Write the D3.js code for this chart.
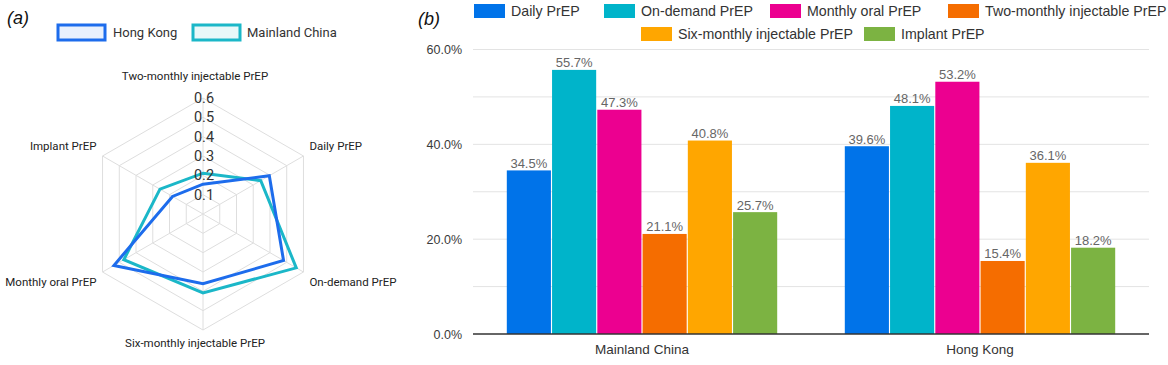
<!DOCTYPE html>
<html>
<head>
<meta charset="utf-8">
<script src="https://cdn.jsdelivr.net/npm/d3@7"></script>
<style>
  body { margin: 0; background: #fff; }
  svg { display: block; }
</style>
</head>
<body>
<svg width="1168" height="365"></svg>
<script>
// data
let methods = ['Daily PrEP', 'On-demand PrEP', 'Monthly oral PrEP', 'Two-monthly injectable PrEP', 'Six-monthly injectable PrEP', 'Implant PrEP'];
let regions = ['Mainland China', 'Hong Kong'];
let mainlandValues = [34.5, 55.7, 47.3, 21.1, 40.8, 25.7];
let hongKongValues = [39.6, 48.1, 53.2, 15.4, 36.1, 18.2];
let yTicks = [0, 20, 40, 60];

// radar axes order (clockwise from top)
let radarAxes = ['Two-monthly injectable PrEP', 'Daily PrEP', 'On-demand PrEP', 'Six-monthly injectable PrEP', 'Monthly oral PrEP', 'Implant PrEP'];
let radarLevels = [0.1, 0.2, 0.3, 0.4, 0.5, 0.6];

let barColors = ['#0073e9', '#00b4ca', '#ec0090', '#f56d00', '#ffa600', '#7cb342'];
let radarColors = { 'Hong Kong': '#1d6cec', 'Mainland China': '#1bb7c8' };

let svg = d3.select('svg');

// ---------- panel (a): radar ----------
let drawRadar = () => {
    let cx = 203, cy = 214, R = 116;
    let g = svg.append('g').attr('transform', `translate(${cx}, ${cy})`);
    let rScale = d3.scaleLinear().domain([0, 0.6]).range([0, R]);
    let angle = (i) => i * 2 * Math.PI / radarAxes.length;

    // grid hexagons
    radarLevels.forEach((lv) => {
        let pts = radarAxes.map((a, i) => [rScale(lv) * Math.sin(angle(i)), -rScale(lv) * Math.cos(angle(i))]);
        g.append('polygon')
            .attr('points', pts.map((p) => p.join(',')).join(' '))
            .attr('fill', 'none')
            .attr('stroke', '#dedede')
            .attr('stroke-width', 1);
    });
    // spokes
    radarAxes.forEach((a, i) => {
        g.append('line')
            .attr('x1', 0).attr('y1', 0)
            .attr('x2', R * Math.sin(angle(i)))
            .attr('y2', -R * Math.cos(angle(i)))
            .attr('stroke', '#dedede');
    });

    // series
    let series = [
        { name: 'Mainland China', values: mainlandValues },
        { name: 'Hong Kong', values: hongKongValues }
    ];
    let line = d3.lineRadial()
        .angle((d, i) => angle(i))
        .radius((d) => rScale(d))
        .curve(d3.curveLinearClosed);
    series.forEach((s) => {
        let vals = radarAxes.map((a) => s.values[methods.indexOf(a)] / 100);
        g.append('path')
            .attr('d', line(vals))
            .attr('fill', 'none')
            .attr('stroke', radarColors[s.name])
            .attr('stroke-width', 3)
            .attr('stroke-linejoin', 'miter');
    });

    // level labels
    radarLevels.forEach((lv) => {
        g.append('text')
            .attr('x', 1)
            .attr('y', -rScale(lv))
            .attr('dy', '0.35em')
            .attr('text-anchor', 'middle')
            .attr('font-family', 'Roboto, sans-serif')
            .attr('font-size', 14.5)
            .attr('fill', '#333')
            .text(lv.toFixed(1));
    });

    // axis labels
    radarAxes.forEach((a, i) => {
        let x = R * Math.sin(angle(i)), y = -R * Math.cos(angle(i));
        let anchor = 'middle', tx = x - 8, ty = y;
        if (i === 0) { ty = y - 22; }
        else if (i === 3) { ty = y + 13; }
        else {
            anchor = x > 0 ? 'start' : 'end';
            tx = x + (x > 0 ? 6 : -6);
            ty = y + (y < 0 ? -10 : 10);
        }
        g.append('text')
            .attr('x', tx).attr('y', ty)
            .attr('dy', '0.35em')
            .attr('text-anchor', anchor)
            .attr('font-family', 'Roboto, sans-serif')
            .attr('font-size', 11.5)
            .attr('fill', '#222')
            .text(a);
    });

    // legend
    let legend = [
        { name: 'Hong Kong', x: 58, tx: 113 },
        { name: 'Mainland China', x: 193, tx: 247 }
    ];
    legend.forEach((l) => {
        svg.append('rect')
            .attr('x', l.x).attr('y', 25)
            .attr('width', 47).attr('height', 15)
            .attr('fill', radarColors[l.name])
            .attr('fill-opacity', 0.1)
            .attr('stroke', radarColors[l.name])
            .attr('stroke-width', 3);
        svg.append('text')
            .attr('x', l.tx).attr('y', 32.5)
            .attr('dy', '0.35em')
            .attr('font-family', 'Roboto, sans-serif')
            .attr('font-size', 13)
            .attr('fill', '#333')
            .text(l.name);
    });

    svg.append('text')
        .attr('x', 7).attr('y', 24)
        .attr('font-family', 'Liberation Sans, Arial, sans-serif')
        .attr('font-style', 'italic')
        .attr('font-size', 18)
        .attr('fill', '#111')
        .text('(a)');
};

// ---------- panel (b): grouped bars ----------
let drawBars = () => {
    let left = 473, right = 1149, top = 49.5, bottom = 334;
    let font = 'Liberation Sans, Arial, sans-serif';

    let x0 = d3.scaleBand().domain(regions).range([left, right]).paddingInner(0.2).paddingOuter(0.1);
    let x1 = d3.scaleBand().domain(methods).range([0, x0.bandwidth()]).paddingInner(0.025);
    let y = d3.scaleLinear().domain([0, 60]).range([bottom, top]);

    // gridlines
    svg.append('g')
        .selectAll('line')
        .data(d3.range(10, 61, 10))
        .enter()
        .append('line')
        .attr('x1', left).attr('x2', right)
        .attr('y1', (d) => y(d)).attr('y2', (d) => y(d))
        .attr('stroke', '#e3e3e3')
        .attr('stroke-width', 1);

    // y axis labels
    let yAxis = d3.axisLeft(y).tickValues(yTicks).tickFormat((d) => d.toFixed(1) + '%').tickSize(0).tickPadding(11);
    let ya = svg.append('g').attr('transform', `translate(${left}, 0)`).call(yAxis);
    ya.select('.domain').remove();
    ya.selectAll('text')
        .attr('font-family', font)
        .attr('font-size', 12.5)
        .attr('fill', '#3a3a3a');

    let data = regions.map((r) => ({
        region: r,
        values: r === 'Mainland China' ? mainlandValues : hongKongValues
    }));

    let groups = svg.selectAll('g.group')
        .data(data)
        .enter()
        .append('g')
        .attr('class', 'group')
        .attr('transform', (d) => `translate(${x0(d.region)}, 0)`);

    groups.selectAll('rect')
        .data((d) => d.values.map((v, i) => ({ method: methods[i], value: v, i: i })))
        .enter()
        .append('rect')
        .attr('x', (d) => x1(d.method))
        .attr('y', (d) => y(d.value))
        .attr('width', x1.bandwidth())
        .attr('height', (d) => bottom - y(d.value))
        .attr('fill', (d) => barColors[d.i]);

    groups.selectAll('text.val')
        .data((d) => d.values.map((v, i) => ({ method: methods[i], value: v })))
        .enter()
        .append('text')
        .attr('class', 'val')
        .attr('x', (d) => x1(d.method) + x1.bandwidth() / 2)
        .attr('y', (d) => y(d.value) - 2.5)
        .attr('text-anchor', 'middle')
        .attr('font-family', font)
        .attr('font-size', 13)
        .attr('fill', '#666')
        .text((d) => d.value.toFixed(1) + '%');

    // x axis
    let xAxis = d3.axisBottom(x0).tickSize(0).tickPadding(10);
    let xa = svg.append('g').attr('transform', `translate(0, ${bottom})`).call(xAxis);
    xa.select('.domain').attr('d', `M${left},0H${right}`).attr('stroke', '#333').attr('stroke-width', 1.5);
    xa.selectAll('text')
        .attr('font-family', font)
        .attr('font-size', 13.5)
        .attr('fill', '#333');

    // legend
    let legendPos = [
        { x: 474, y: 4 }, { x: 604, y: 4 }, { x: 770, y: 4 }, { x: 948, y: 4 },
        { x: 641, y: 27 }, { x: 864, y: 27 }
    ];
    methods.forEach((m, i) => {
        let p = legendPos[i];
        svg.append('rect')
            .attr('x', p.x).attr('y', p.y)
            .attr('width', 31).attr('height', 14)
            .attr('fill', barColors[i]);
        svg.append('text')
            .attr('x', p.x + 37).attr('y', p.y + 7)
            .attr('dy', '0.35em')
            .attr('font-family', font)
            .attr('font-size', 14.2)
            .attr('fill', '#333')
            .text(m);
    });

    svg.append('text')
        .attr('x', 418).attr('y', 25)
        .attr('font-family', font)
        .attr('font-style', 'italic')
        .attr('font-size', 18)
        .attr('fill', '#111')
        .text('(b)');
};

drawRadar();
drawBars();
</script>
</body>
</html>
